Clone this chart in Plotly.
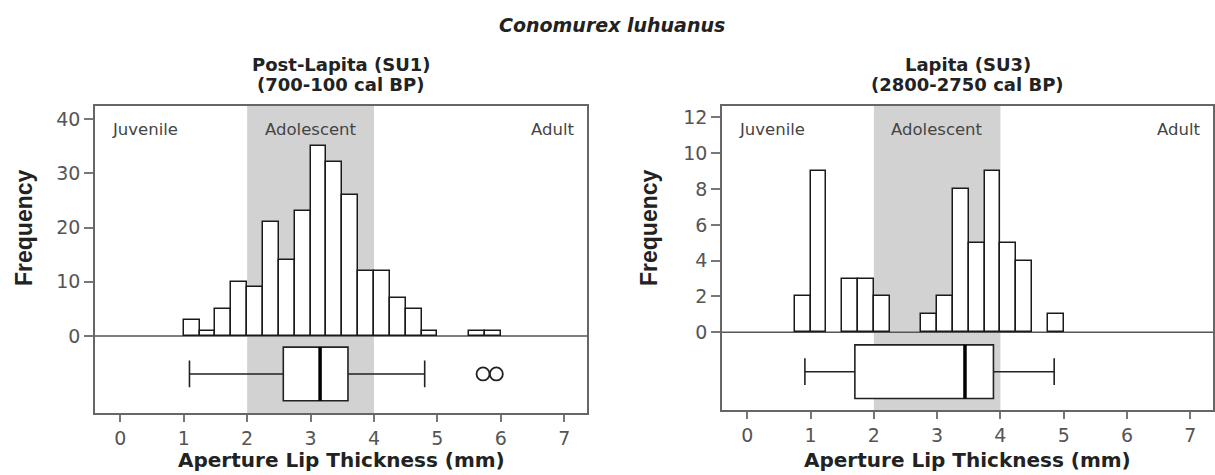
import plotly.graph_objects as go

# ---- data ----
bin_width = 0.25
su1_bin_start = [1.0, 1.25, 1.5, 1.75, 2.0, 2.25, 2.5, 2.75, 3.0, 3.25, 3.5, 3.75,
                 4.0, 4.25, 4.5, 4.75, 5.5, 5.75]
su1_counts = [3, 1, 5, 10, 9, 21, 14, 23, 35, 32, 26, 12, 12, 7, 5, 1, 1, 1]
su3_bin_start = [0.75, 1.0, 1.5, 1.75, 2.0, 2.75, 3.0, 3.25, 3.5, 3.75, 4.0, 4.25, 4.75]
su3_counts = [2, 9, 3, 3, 2, 1, 2, 8, 5, 9, 5, 4, 1]

# box stats: lowerfence, q1, median, q3, upperfence
su1_box = dict(lo=1.09, q1=2.57, med=3.15, q3=3.59, hi=4.80)
su1_outliers = [5.72, 5.93]
su3_box = dict(lo=0.91, q1=1.70, med=3.44, q3=3.89, hi=4.85)

zone_labels = ["Juvenile", "Adolescent", "Adult"]
adolescent_range = [2, 4]
x_ticks = [0, 1, 2, 3, 4, 5, 6, 7]
su1_yticks = [0, 10, 20, 30, 40]
su3_yticks = [0, 2, 4, 6, 8, 10, 12]

FONT = "DejaVu Sans, sans-serif"
FONT_A = "Liberation Sans, Arial, sans-serif"
W, H = 1215, 475

fig = go.Figure()

def px2paper_x(px):
    return px / W

def px2paper_y(py):
    return 1 - py / H

panels = [
    dict(xa="x", ya="y", xd=[95, 587], yd=[106, 413], yr=[-14.2, 42.4],
         starts=su1_bin_start, counts=su1_counts, box=su1_box, out=su1_outliers,
         bpos=-7.0, bw=9.9, yt=su1_yticks,
         t1="Post-Lapita (SU1)", t2="(700-100 cal BP)",
         freq_x=24, juv_x=110, adult_x=577),
    dict(xa="x2", ya="y2", xd=[722, 1213], yd=[106, 410], yr=[-4.34, 12.64],
         starts=su3_bin_start, counts=su3_counts, box=su3_box, out=[],
         bpos=-2.2, bw=3.0, yt=su3_yticks,
         t1="Lapita (SU3)", t2="(2800-2750 cal BP)",
         freq_x=649, juv_x=737, adult_x=1203),
]

xr = [-0.4, 7.36]
annotations = []
shapes = []

for i, p in enumerate(panels):
    xa, ya = p["xa"], p["ya"]
    # histogram
    fig.add_trace(go.Bar(
        x=[s + bin_width / 2 for s in p["starts"]], y=p["counts"], width=bin_width,
        marker=dict(color="white", line=dict(color="#1a1a1a", width=1.5)),
        xaxis=xa, yaxis=ya, showlegend=False, hoverinfo="skip"))
    b = p["box"]
    fig.add_trace(go.Box(
        y=[p["bpos"]], q1=[b["q1"]], median=[b["med"]], q3=[b["q3"]],
        lowerfence=[b["lo"]], upperfence=[b["hi"]], orientation="h",
        width=p["bw"], whiskerwidth=0.5, fillcolor="white",
        line=dict(color="#222", width=1.6), boxpoints=False,
        xaxis=xa, yaxis=ya, showlegend=False, hoverinfo="skip"))
    # thick median
    fig.add_trace(go.Scatter(
        x=[b["med"], b["med"]], y=[p["bpos"] - p["bw"] / 2, p["bpos"] + p["bw"] / 2],
        mode="lines", line=dict(color="black", width=3.5),
        xaxis=xa, yaxis=ya, showlegend=False, hoverinfo="skip"))
    if p["out"]:
        fig.add_trace(go.Scatter(
            x=p["out"], y=[p["bpos"]] * len(p["out"]), mode="markers",
            marker=dict(symbol="circle-open", size=13, color="#222", line=dict(width=1.8)),
            xaxis=xa, yaxis=ya, showlegend=False, hoverinfo="skip"))

    # shading
    shapes.append(dict(type="rect", xref=xa, yref="paper",
                       x0=adolescent_range[0], x1=adolescent_range[1],
                       y0=px2paper_y(p["yd"][1]), y1=px2paper_y(p["yd"][0]),
                       fillcolor="#d2d2d2", line=dict(width=0), layer="below"))
    # zero line
    shapes.append(dict(type="line", xref="paper", yref=ya,
                       x0=px2paper_x(p["xd"][0]), x1=px2paper_x(p["xd"][1]),
                       y0=0, y1=0, line=dict(color="#555", width=1.5), layer="below"))

    fig.update_layout(**{
        ("xaxis" if i == 0 else "xaxis2"): dict(
            domain=[px2paper_x(p["xd"][0]), px2paper_x(p["xd"][1])],
            anchor=ya, range=xr, tickvals=x_ticks, ticks="outside", ticklen=7,
            tickcolor="#777", tickwidth=1.5,
            showline=True, mirror=True, linecolor="#666", linewidth=1.6,
            showgrid=False, zeroline=False,
            tickfont=dict(family=FONT, size=19, color="#555")),
        ("yaxis" if i == 0 else "yaxis2"): dict(
            domain=[px2paper_y(p["yd"][1]), px2paper_y(p["yd"][0])],
            anchor=xa, range=p["yr"], tickvals=p["yt"], ticks="outside", ticklen=9,
            tickcolor="#777", tickwidth=1.5,
            showline=True, mirror=True, linecolor="#666", linewidth=1.6,
            showgrid=False, zeroline=False,
            tickfont=dict(family=FONT, size=19, color="#555")),
    })

    cx = (p["xd"][0] + p["xd"][1]) / 2
    # subplot titles
    annotations.append(dict(text="<b>" + p["t1"] + "</b>",
                            x=px2paper_x(cx), y=px2paper_y(65),
                            xref="paper", yref="paper", showarrow=False,
                            xanchor="center", yanchor="middle",
                            font=dict(family=FONT, size=18, color="#222")))
    annotations.append(dict(text="<b>" + p["t2"] + "</b>",
                            x=px2paper_x(cx), y=px2paper_y(84),
                            xref="paper", yref="paper", showarrow=False,
                            xanchor="center", yanchor="middle",
                            font=dict(family=FONT, size=18, color="#222")))
    # x title
    annotations.append(dict(text="<b>Aperture Lip Thickness (mm)</b>",
                            x=px2paper_x(cx), y=px2paper_y(460),
                            xref="paper", yref="paper", showarrow=False,
                            xanchor="center", yanchor="middle",
                            font=dict(family=FONT, size=20, color="#222")))
    # Frequency
    annotations.append(dict(text="<b>Frequency</b>", textangle=-90,
                            x=px2paper_x(p["freq_x"]), y=px2paper_y(228),
                            xref="paper", yref="paper", showarrow=False,
                            xanchor="center", yanchor="middle",
                            font=dict(family=FONT_A, size=23, color="#222")))
    # zone labels
    annotations.append(dict(text=zone_labels[0], x=px2paper_x(p["juv_x"]), y=px2paper_y(130),
                            xref="paper", yref="paper", showarrow=False,
                            xanchor="left", yanchor="middle",
                            font=dict(family=FONT, size=16.5, color="#444")))
    annotations.append(dict(text=zone_labels[1], x=sum(adolescent_range) / 2, y=px2paper_y(130),
                            xref=xa, yref="paper", showarrow=False,
                            xanchor="center", yanchor="middle",
                            font=dict(family=FONT, size=16.5, color="#444")))
    annotations.append(dict(text=zone_labels[2], x=px2paper_x(p["adult_x"]), y=px2paper_y(130),
                            xref="paper", yref="paper", showarrow=False,
                            xanchor="right", yanchor="middle",
                            font=dict(family=FONT, size=16.5, color="#444")))

annotations.append(dict(text="<b><i>Conomurex luhuanus</i></b>", x=px2paper_x(612),
                        y=px2paper_y(25), xref="paper", yref="paper", showarrow=False,
                        xanchor="center", yanchor="middle",
                        font=dict(family=FONT, size=19, color="#222")))

fig.update_layout(width=W, height=H, margin=dict(l=0, r=0, t=0, b=0),
                  plot_bgcolor="white", paper_bgcolor="white",
                  shapes=shapes, annotations=annotations, bargap=0,
                  showlegend=False)

fig.write_html("out.html")
